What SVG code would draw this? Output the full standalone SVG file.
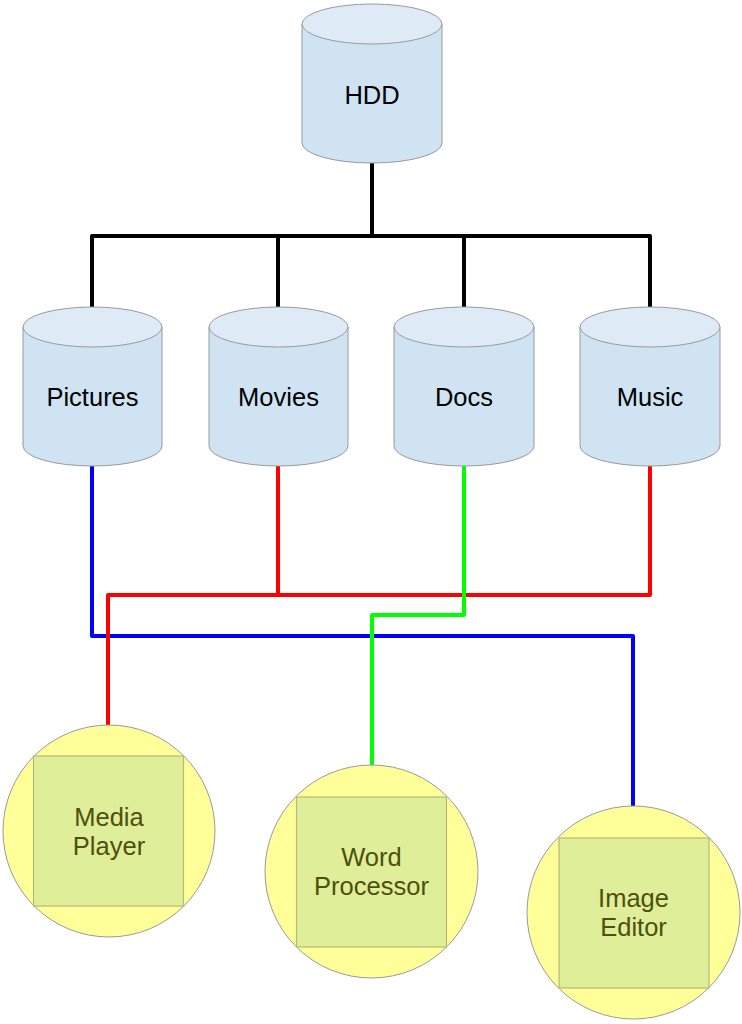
<svg xmlns="http://www.w3.org/2000/svg" width="742" height="1024" viewBox="0 0 742 1024">
<style>
.cyl{fill:#cfe3f3;stroke:#9a9a9a;stroke-width:1}
.cyltop{fill:#deebf7;stroke:#9a9a9a;stroke-width:1}
.lbl{font-family:"Liberation Sans",Arial,sans-serif;font-size:25.5px;fill:#000;text-anchor:middle}
.app{fill:#ffff99;stroke:#9a9a9a;stroke-width:1}
.appsq{fill:#dfee98;stroke:#b8b878;stroke-width:1.2}
.applbl{font-family:"Liberation Sans",Arial,sans-serif;font-size:25.5px;fill:#4f4f10;text-anchor:middle}
.wire{fill:none;stroke-width:4;stroke-linejoin:round;stroke-linecap:butt}
</style>
<rect width="742" height="1024" fill="#fff"/>
<g id="connectors">
<path class="wire" stroke="#000" d="M372 163V236M92 307V236H650V307M278 236V307M464 236V307"/>
<path class="wire" stroke="#0000ff" d="M92 466V636H633V806"/>
<path class="wire" stroke="#ff0000" d="M278 466V595M650 466V595H108V725"/>
<path class="wire" stroke="#00ff00" d="M464 466V615H372V765"/>
</g>
<g id="hdd">
<path class="cyl" d="M302 24V143A70 20 0 0 0 442 143V24"/>
<ellipse class="cyltop" cx="372" cy="24" rx="70" ry="20"/>
<text class="lbl" x="372" y="104">HDD</text>
</g>
<g id="pictures">
<path class="cyl" d="M23 327V446A69.5 20 0 0 0 162 446V327"/>
<ellipse class="cyltop" cx="92.5" cy="327" rx="69.5" ry="20"/>
<text class="lbl" x="92.5" y="406">Pictures</text>
</g>
<g id="movies">
<path class="cyl" d="M209 327V446A69.5 20 0 0 0 348 446V327"/>
<ellipse class="cyltop" cx="278.5" cy="327" rx="69.5" ry="20"/>
<text class="lbl" x="278.5" y="406">Movies</text>
</g>
<g id="docs">
<path class="cyl" d="M394 327V446A70 20 0 0 0 534 446V327"/>
<ellipse class="cyltop" cx="464" cy="327" rx="70" ry="20"/>
<text class="lbl" x="464" y="406">Docs</text>
</g>
<g id="music">
<path class="cyl" d="M580 327V446A70 20 0 0 0 720 446V327"/>
<ellipse class="cyltop" cx="650" cy="327" rx="70" ry="20"/>
<text class="lbl" x="650" y="406">Music</text>
</g>
<g id="media-player">
<circle class="app" cx="109" cy="831" r="106"/>
<rect class="appsq" x="33.5" y="756" width="150" height="150"/>
<text class="applbl" x="109" y="825.5">Media</text>
<text class="applbl" x="109" y="854.5">Player</text>
</g>
<g id="word-processor">
<circle class="app" cx="371.5" cy="871.5" r="106.5"/>
<rect class="appsq" x="296.5" y="797" width="150" height="150"/>
<text class="applbl" x="371.5" y="865.5">Word</text>
<text class="applbl" x="371.5" y="895">Processor</text>
</g>
<g id="image-editor">
<circle class="app" cx="633.5" cy="912.5" r="106.5"/>
<rect class="appsq" x="559" y="838" width="150" height="150"/>
<text class="applbl" x="633.5" y="906.5">Image</text>
<text class="applbl" x="633.5" y="935.5">Editor</text>
</g>
</svg>
